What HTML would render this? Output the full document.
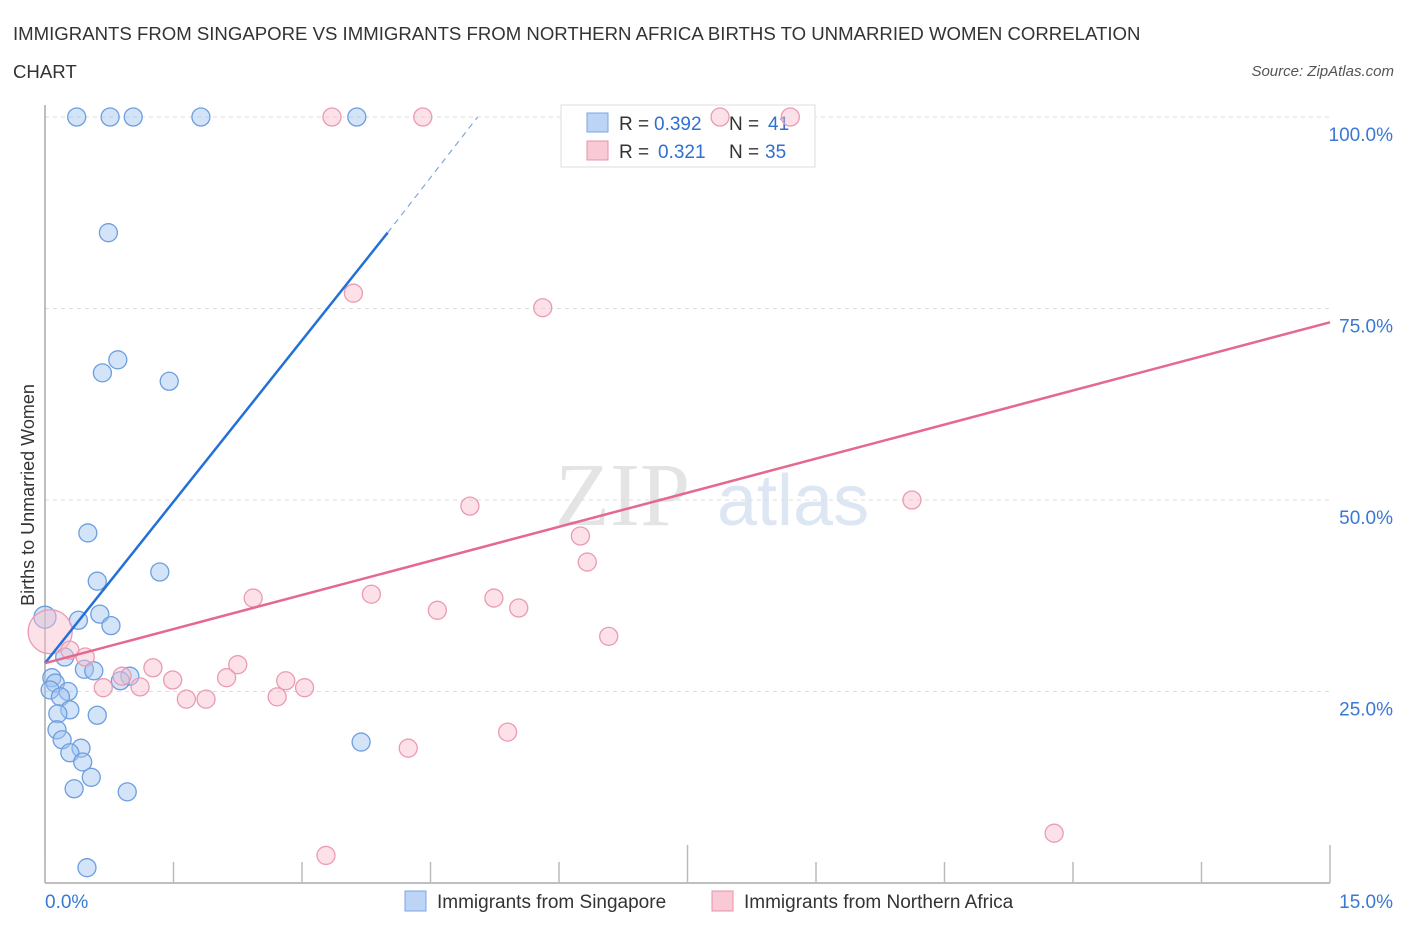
<!DOCTYPE html>
<html><head><meta charset="utf-8"><style>
body{margin:0;background:#fff;font-family:"Liberation Sans",sans-serif;}
</style></head><body>
<svg id="chart" width="1406" height="930" xmlns="http://www.w3.org/2000/svg" font-family="Liberation Sans, sans-serif">
<text x="13" y="40" font-size="18.6" fill="#333">IMMIGRANTS FROM SINGAPORE VS IMMIGRANTS FROM NORTHERN AFRICA BIRTHS TO UNMARRIED WOMEN CORRELATION</text>
<text x="13" y="78" font-size="18.6" fill="#333">CHART</text>
<text x="1394" y="76" font-size="15" fill="#555" font-style="italic" text-anchor="end">Source: ZipAtlas.com</text>
<text x="555" y="525" font-size="90" fill="#e4e4e4" font-family="Liberation Serif, serif">ZIP</text>
<text x="717" y="525" font-size="72" fill="#dde7f4">atlas</text>
<text transform="translate(34,495) rotate(-90)" font-size="18" fill="#333" text-anchor="middle">Births to Unmarried Women</text>
<g id="grid"></g>
<g>
<rect x="561" y="105" width="254" height="62" fill="#fff" stroke="#ddd"/>
<rect x="587" y="113" width="21" height="19" fill="#bcd4f6" stroke="#7aa6e0"/>
<text x="619" y="130" font-size="19" fill="#333">R =</text>
<text x="654" y="130" font-size="19" fill="#2f6fd0">0.392</text>
<text x="729" y="130" font-size="19" fill="#333">N =</text>
<text x="768" y="130" font-size="19" fill="#2f6fd0">41</text>
<rect x="587" y="141" width="21" height="19" fill="#f9c9d6" stroke="#e890aa"/>
<text x="619" y="158" font-size="19" fill="#333">R =</text>
<text x="658" y="158" font-size="19" fill="#2f6fd0">0.321</text>
<text x="729" y="158" font-size="19" fill="#333">N =</text>
<text x="765" y="158" font-size="19" fill="#2f6fd0">35</text>
</g>
<g id="marks"></g>
<g>
<rect x="405" y="891" width="21" height="20" fill="#bcd4f6" stroke="#7aa6e0"/>
<text x="437" y="908" font-size="19" fill="#333">Immigrants from Singapore</text>
<rect x="712" y="891" width="21" height="20" fill="#f9c9d6" stroke="#e890aa"/>
<text x="744" y="908" font-size="19" fill="#333">Immigrants from Northern Africa</text>
</g>
</svg>
<script>
const xTicks=[0,1.5,3,4.5,6,7.5,9,10.5,12,13.5,15];
const yTicks=[25,50,75,100];
const yTickLabels=["25.0%","50.0%","75.0%","100.0%"];
const blueX=[0.37,0.76,1.03,1.82,3.64,0.74,0.85,0.67,1.45,0.50,1.34,0.61,0.39,0.64,0.77,0,0.23,0.46,0.57,0.99,0.88,0.08,0.12,0.06,0.27,0.18,0.29,0.15,0.61,0.14,0.20,0.42,0.29,0.44,0.54,0.34,0.96,3.69,0.49];
const blueY=[100,100,100,100,100,84.9,68.3,66.6,65.5,45.7,40.6,39.4,34.3,35.1,33.6,34.7,29.5,27.9,27.7,27.0,26.4,26.8,26.1,25.2,25.0,24.3,22.6,22.1,21.9,20.0,18.7,17.6,17.0,15.8,13.8,12.3,11.9,18.4,2.0];
const pinkX=[3.35,4.41,7.88,8.70,3.60,5.81,10.12,4.96,6.25,6.33,2.43,3.81,4.58,5.24,5.53,6.58,0.06,0.29,0.47,1.26,0.90,1.49,2.25,2.12,2.81,0.68,1.11,1.65,1.88,2.71,3.03,4.24,5.40,11.78,3.28];
const pinkY=[100,100,100,100,77.0,75.1,50.0,49.2,45.3,41.9,37.2,37.7,35.6,37.2,35.9,32.2,32.8,30.4,29.5,28.1,27.0,26.5,28.5,26.8,26.4,25.5,25.6,24.0,24.0,24.3,25.5,17.6,19.7,6.5,3.6];
const blueLine=[[0,28.7],[4.0,84.9]];
const blueDash=[[4.0,84.9],[5.05,100]];
const pinkLine=[[0,28.7],[15,73.2]];
const NS="http://www.w3.org/2000/svg";
const sx=v=>45+v/15*1285, sy=v=>883-v/100*766;
const grid=document.getElementById('grid'), marks=document.getElementById('marks');
function mk(tag,attrs,parent){const e=document.createElementNS(NS,tag);for(const k in attrs)e.setAttribute(k,attrs[k]);parent.appendChild(e);return e;}
yTicks.forEach((t,i)=>{
 const l=mk('line',{x1:45,x2:1330,y1:sy(t),y2:sy(t),stroke:'#ddd','stroke-dasharray':'4,4'},grid);
 
 
 const tx=mk('text',{x:1393,y:sy(t)+24,'font-size':19,fill:'#3a78d4','text-anchor':'end'},grid);
 tx.textContent=yTickLabels[i];
 
 
});
const ax=mk('line',{x1:45,x2:45,y1:105,y2:883,stroke:'#aaa','stroke-width':1.5},grid);


const xa=mk('line',{x1:45,x2:1330,y1:883,y2:883,stroke:'#aaa','stroke-width':1.5},grid);


xTicks.forEach((t,i)=>{
 const tall=(i===5||i===10);
 const l=mk('line',{x1:sx(t),x2:sx(t),y1:tall?845:862,y2:883,stroke:'#bbb','stroke-width':1.5},grid);
 
 
});
const x0=mk('text',{x:45,y:908,'font-size':19,fill:'#3a78d4'},grid);x0.textContent='0.0%';


const x1=mk('text',{x:1393,y:908,'font-size':19,fill:'#3a78d4','text-anchor':'end'},grid);x1.textContent='15.0%';


blueX.forEach((v,i)=>{
 const c=mk('circle',{cx:sx(v),cy:sy(blueY[i]),r:(v===0?11:9),fill:'rgba(160,195,240,0.45)',stroke:'#6d9ee0','stroke-width':1.3},marks);
 
 
});
pinkX.forEach((v,i)=>{
 const big=(i===16);
 const c=mk('circle',{cx:sx(v),cy:sy(pinkY[i]),r:big?22:9,fill:'rgba(248,190,205,0.45)',stroke:'#eb9ab2','stroke-width':1.3},marks);
 
 
});
const bl=mk('line',{x1:sx(blueLine[0][0]),y1:sy(blueLine[0][1]),x2:sx(blueLine[1][0]),y2:sy(blueLine[1][1]),stroke:'#2370d8','stroke-width':2.5},marks);


const bd=mk('line',{x1:sx(blueDash[0][0]),y1:sy(blueDash[0][1]),x2:sx(blueDash[1][0]),y2:sy(blueDash[1][1]),stroke:'#7ea6e0','stroke-width':1.2,'stroke-dasharray':'6,5'},marks);


const pl=mk('line',{x1:sx(pinkLine[0][0]),y1:sy(pinkLine[0][1]),x2:sx(pinkLine[1][0]),y2:sy(pinkLine[1][1]),stroke:'#e56890','stroke-width':2.5},marks);


</script>
</body></html>
